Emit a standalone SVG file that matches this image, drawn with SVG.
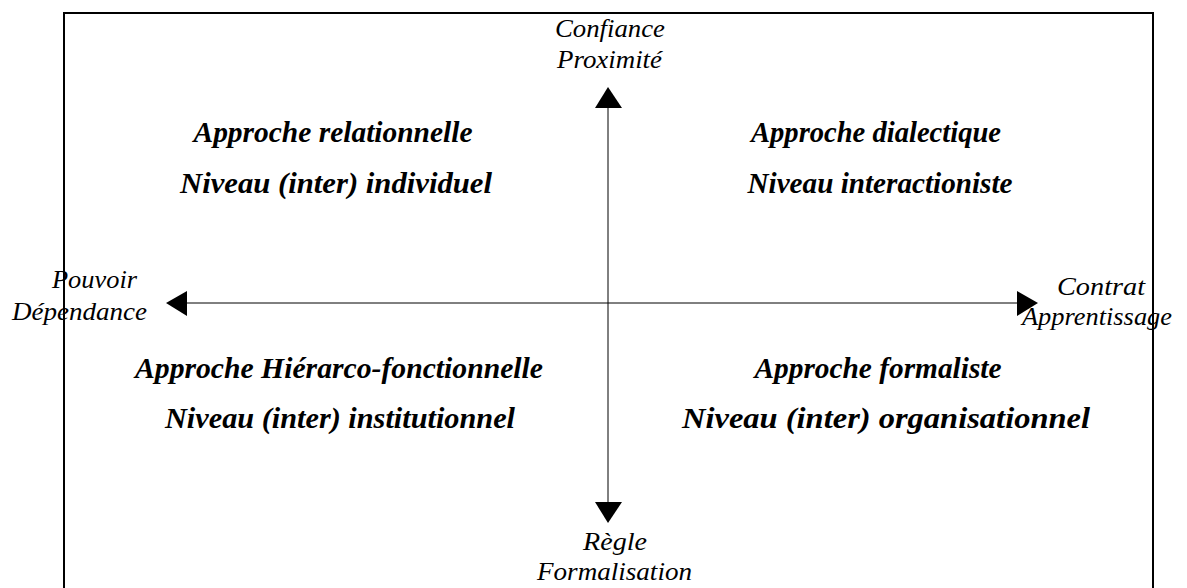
<svg xmlns="http://www.w3.org/2000/svg" width="1187" height="588" viewBox="0 0 1187 588">
<style>
.ax{font-family:"Liberation Serif","Times New Roman",serif;font-style:italic;font-size:26px;fill:#000}
.q{font-family:"Liberation Serif","Times New Roman",serif;font-style:italic;font-weight:bold;font-size:30px;fill:#000;text-anchor:middle}
.ln{stroke:#000;stroke-width:1;fill:none}
</style>
<rect x="0" y="0" width="1187" height="588" fill="#fff"/>
<rect id="frame" x="64" y="13" width="1089" height="600" fill="none" stroke="#000" stroke-width="2"/>
<g id="connectors">
<line class="ln" x1="608" y1="106" x2="608" y2="503"/>
<polygon points="608,87 595,108 622,108" fill="#000"/>
<polygon points="608,523 595,502 622,502" fill="#000"/>
<line class="ln" x1="185" y1="303" x2="1019" y2="303"/>
<polygon points="166,303 187,291 187,316" fill="#000"/>
<polygon points="1038,303 1017,291 1017,316" fill="#000"/>
</g>
<g id="top-label"><text class="ax" x="555" y="37" textLength="110" lengthAdjust="spacingAndGlyphs">Confiance</text><text class="ax" x="557" y="68" textLength="105" lengthAdjust="spacingAndGlyphs">Proximité</text></g>
<g id="bottom-label"><text class="ax" x="583" y="550" textLength="64" lengthAdjust="spacingAndGlyphs">Règle</text><text class="ax" x="537" y="580" textLength="155" lengthAdjust="spacingAndGlyphs">Formalisation</text></g>
<g id="left-label"><text class="ax" x="52" y="288" textLength="85" lengthAdjust="spacingAndGlyphs">Pouvoir</text><text class="ax" x="12" y="320" textLength="135" lengthAdjust="spacingAndGlyphs">Dépendance</text></g>
<g id="right-label"><text class="ax" x="1057" y="295" textLength="88" lengthAdjust="spacingAndGlyphs">Contrat</text><text class="ax" x="1022" y="325" textLength="150" lengthAdjust="spacingAndGlyphs">Apprentissage</text></g>
<g id="q-tl"><text class="q" x="333" y="142" textLength="279" lengthAdjust="spacingAndGlyphs">Approche relationnelle</text><text class="q" x="336" y="193" textLength="312" lengthAdjust="spacingAndGlyphs">Niveau (inter) individuel</text></g>
<g id="q-tr"><text class="q" x="876" y="142" textLength="250" lengthAdjust="spacingAndGlyphs">Approche dialectique</text><text class="q" x="880" y="193" textLength="265" lengthAdjust="spacingAndGlyphs">Niveau interactioniste</text></g>
<g id="q-bl"><text class="q" x="339" y="378" textLength="408" lengthAdjust="spacingAndGlyphs">Approche Hiérarco-fonctionnelle</text><text class="q" x="340" y="428" textLength="350" lengthAdjust="spacingAndGlyphs">Niveau (inter) institutionnel</text></g>
<g id="q-br"><text class="q" x="878" y="378" textLength="247" lengthAdjust="spacingAndGlyphs">Approche formaliste</text><text class="q" x="886" y="428" textLength="408" lengthAdjust="spacingAndGlyphs">Niveau (inter) organisationnel</text></g>
</svg>
